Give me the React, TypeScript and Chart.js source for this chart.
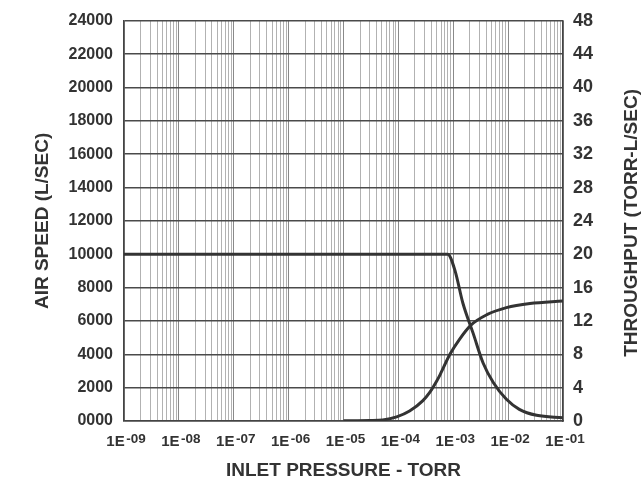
import React, { useEffect, useRef } from "react";
import { Chart, registerables } from "chart.js";

Chart.register(...registerables);

// ---- data ----
const AIR_SPEED_X = [1e-9, 1e-6, 1e-4, 5e-4, 7.9e-4, 1.07e-3, 1.5e-3, 2.3e-3, 3.5e-3, 5.4e-3, 9.3e-3, 0.016, 0.033, 0.1];
const AIR_SPEED_Y = [10000, 10000, 10000, 10000, 10000, 9050, 7060, 5270, 3480, 2290, 1300, 700, 340, 200];

const THROUGHPUT_X = [1e-5, 3e-5, 5.2e-5, 9.3e-5, 1.6e-4, 2.8e-4, 3.7e-4, 5e-4, 5.8e-4, 8.7e-4, 1.3e-3, 2.1e-3, 4.1e-3, 9.3e-3, 0.025, 0.1];
const THROUGHPUT_Y = [0.02, 0.05, 0.12, 0.5, 1.2, 2.45, 3.4, 4.8, 5.6, 8.0, 9.8, 11.5, 12.75, 13.6, 14.1, 14.4];

const X_DECADES = [-9, -8, -7, -6, -5, -4, -3, -2, -1];
const X_TICK_BASE = "1E";
const X_TICK_EXP = ["-09", "-08", "-07", "-06", "-05", "-04", "-03", "-02", "-01"];
const LEFT_TICK_LABELS = ["0000", "2000", "4000", "6000", "8000", "10000", "12000", "14000", "16000", "18000", "20000", "22000", "24000"];
const RIGHT_TICK_LABELS = ["0", "4", "8", "12", "16", "20", "24", "28", "32", "36", "40", "44", "48"];

const LEFT_TITLE = "AIR SPEED (L/SEC)";
const RIGHT_TITLE = "THROUGHPUT (TORR-L/SEC)";
const X_TITLE = "INLET PRESSURE - TORR";

const FONT = '"Liberation Sans", Arial, Helvetica, sans-serif';
const TEXT = "#333333";
const LINE = "#333333";

const extraText = {
  id: "extraText",
  afterDraw(chart: any) {
    const { ctx, chartArea } = chart;
    const xs = chart.scales.x;
    ctx.save();
    ctx.fillStyle = TEXT;
    ctx.textBaseline = "alphabetic";
    ctx.textAlign = "left";
    const baseY = xs.top + 25;
    X_DECADES.forEach((e, i) => {
      const px = xs.getPixelForValue(Math.pow(10, e));
      ctx.font = `bold 15px ${FONT}`;
      const w1 = ctx.measureText(X_TICK_BASE).width;
      ctx.font = `bold 13.5px ${FONT}`;
      const w2 = ctx.measureText(X_TICK_EXP[i]).width;
      const gap = 1.5;
      const start = px + 2 - (w1 + gap + w2) / 2;
      ctx.font = `bold 15px ${FONT}`;
      ctx.fillText(X_TICK_BASE, start, baseY);
      ctx.font = `bold 13.5px ${FONT}`;
      ctx.fillText(X_TICK_EXP[i], start + w1 + gap, baseY - 3.5);
    });
    ctx.translate(631.5, (chartArea.top + chartArea.bottom) / 2 + 2);
    ctx.rotate(-Math.PI / 2);
    ctx.textAlign = "center";
    ctx.textBaseline = "middle";
    ctx.font = `bold 19px ${FONT}`;
    ctx.fillText(RIGHT_TITLE, 0, 0);
    ctx.restore();
  },
};

function isDecade(v: number) {
  const e = Math.round(Math.log10(v));
  return Math.abs(v / Math.pow(10, e) - 1) < 1e-6;
}

export default function App() {
  const ref = useRef<HTMLCanvasElement>(null);
  useEffect(() => {
    if (!ref.current) return;
    const chart = new Chart(ref.current, {
      type: "line",
      data: {
        datasets: [
          {
            label: LEFT_TITLE,
            data: AIR_SPEED_X.map((x, i) => ({ x, y: AIR_SPEED_Y[i] })),
            yAxisID: "y",
            borderColor: LINE,
            borderWidth: 3,
            pointRadius: 0,
            cubicInterpolationMode: "monotone",
            fill: false,
          },
          {
            label: RIGHT_TITLE,
            data: THROUGHPUT_X.map((x, i) => ({ x, y: THROUGHPUT_Y[i] })),
            yAxisID: "y1",
            borderColor: LINE,
            borderWidth: 3,
            pointRadius: 0,
            cubicInterpolationMode: "monotone",
            fill: false,
          },
        ],
      },
      options: {
        animation: false,
        responsive: false,
        layout: { padding: { top: 18, left: 0, right: 0, bottom: 0 } },
        plugins: { legend: { display: false }, tooltip: { enabled: false } },
        scales: {
          x: {
            type: "logarithmic",
            min: 1e-9,
            max: 0.1,
            afterBuildTicks: (scale: any) => {
              const t: any[] = [];
              X_DECADES.forEach((e) => {
                for (let m = 1; m <= 9; m++) {
                  if (e === -1 && m > 1) break;
                  t.push({ value: m * Math.pow(10, e) });
                }
              });
              scale.ticks = t;
            },
            afterFit: (scale: any) => {
              scale.height = 64;
            },
            ticks: { display: false },
            grid: {
              drawTicks: false,
              color: (c: any) => (c.tick && isDecade(c.tick.value) ? "#8a8a8a" : "#b2b2b2"),
              lineWidth: 1,
            },
            border: { color: "#444444", width: 1.5 },
            title: {
              display: true,
              text: X_TITLE,
              color: TEXT,
              font: { family: FONT, size: 19, weight: "bold", lineHeight: 1.2 },
              padding: { top: 0, bottom: 2.6 },
            },
          },
          y: {
            position: "left",
            min: 0,
            max: 24000,
            ticks: {
              stepSize: 2000,
              padding: 11,
              color: TEXT,
              font: { family: FONT, size: 16, weight: "bold" },
              callback: (_v: any, i: number) => LEFT_TICK_LABELS[i],
            },
            afterFit: (scale: any) => {
              scale.width = 124;
            },
            grid: { drawTicks: false, color: "#4a4a4a", lineWidth: 1.5 },
            border: { color: "#444444", width: 1.5 },
            title: {
              display: true,
              text: LEFT_TITLE,
              color: TEXT,
              font: { family: FONT, size: 19, weight: "bold", lineHeight: 1.2 },
              padding: { top: 31.6, bottom: 0 },
            },
          },
          y1: {
            position: "right",
            min: 0,
            max: 48,
            ticks: {
              stepSize: 4,
              padding: 10,
              color: TEXT,
              font: { family: FONT, size: 18, weight: "bold" },
              callback: (_v: any, i: number) => RIGHT_TICK_LABELS[i],
            },
            afterFit: (scale: any) => {
              scale.width = 78;
            },
            grid: { display: false, drawTicks: false },
            border: { color: "#444444", width: 1.5 },
          },
        },
      },
      plugins: [extraText],
    } as any);
    return () => chart.destroy();
  }, []);
  return (
    <div style={{ position: "absolute", left: 0, top: 0, width: 641, height: 485, background: "#fff" }}>
      <canvas ref={ref} width={641} height={485} />
    </div>
  );
}
